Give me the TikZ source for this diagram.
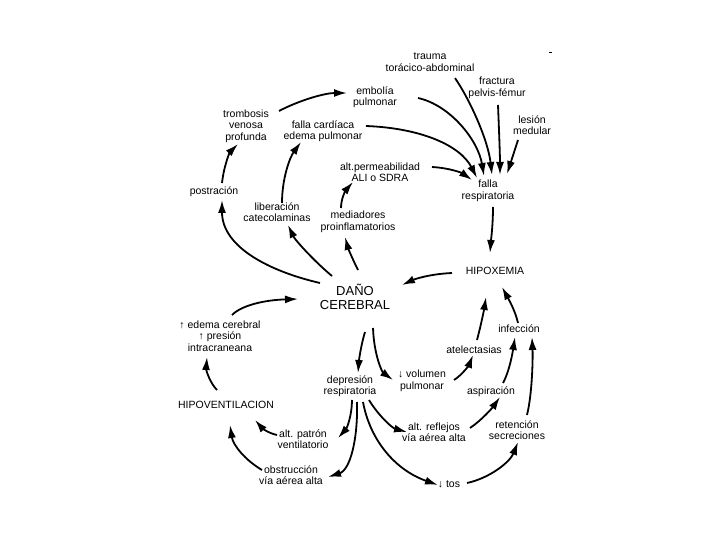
\documentclass[tikz,border=0pt]{standalone}
\usepackage{fontspec}
\setmainfont{Liberation Sans}
\usetikzlibrary{arrows.meta}
\begin{document}
\begin{tikzpicture}[x=1pt,y=-1pt,
  txt/.style={align=center,inner sep=0pt,font=\fontsize{10.5}{11.5}\selectfont},
  big/.style={align=center,inner sep=0pt,font=\fontsize{13}{14}\selectfont},
  arr/.style={line width=1.8pt,-{Latex[length=13pt,width=8pt]}}]
\fill[white] (0,0) rectangle (720,540);
\useasboundingbox (0,0) rectangle (720,540);
% nodes
\node[txt] (nTr) at (430,62) {trauma\\torácico-abdominal};
\node[txt] (nFp) at (497,88) {fractura\\pelvis-fémur};
\node[txt] (nLm) at (532,125) {lesión\\medular};
\node[txt] (nEm) at (375,97) {embolía\\pulmonar};
\node[txt] (nTv) at (246,126) {trombosis\\venosa\\profunda};
\node[txt] (nFc) at (323,131) {falla cardíaca\\edema pulmonar};
\node[txt] (nAp) at (380,172) {alt.permeabilidad\\ALI o SDRA};
\node[txt] (nFr) at (488,191) {falla\\respiratoria};
\node[txt] (nPo) at (214,192) {postración};
\node[txt] (nLc) at (277,212) {liberación\\catecolaminas};
\node[txt] (nMd) at (358,222) {mediadores\\proinflamatorios};
\node[txt] (nHx) at (495,271) {HIPOXEMIA};
\node[big] (nDc) at (355,297) {DAÑO\\CEREBRAL};
\node[txt] (nEc) at (220,336) {↑ edema cerebral\\↑ presión\\intracraneana};
\node[txt] (nAt) at (474,350) {atelectasias};
\node[txt] (nIn) at (519,329) {infección};
\node[txt] (nDr) at (350,386) {depresión\\respiratoria};
\node[txt] (nVp) at (422,381) {↓ volumen\\pulmonar};
\node[txt] (nAs) at (491,392) {aspiración};
\node[txt] (nHv) at (226,405) {HIPOVENTILACION};
\node[txt] (nPv) at (303,439) {alt. patrón\\ventilatorio};
\node[txt] (nRv) at (434,432) {alt. reflejos\\vía aérea alta};
\node[txt] (nRs) at (517,430) {retención\\secreciones};
\node[txt] (nOb) at (291,475) {obstrucción\\vía aérea alta};
\node[txt] (nTs) at (449,484) {↓ tos};
\coordinate (mA) at (549,52);
\coordinate (mB) at (552,52);
\draw[line width=0.8pt] (mA) -- (mB);
% connectors
\draw[arr] ([shift={(33,-15)}]nTv.center) .. controls (300,100) and (325,93) .. ([shift={(-28,-4)}]nEm.center);
\draw[arr] ([shift={(8,-9)}]nPo.center) .. controls (224,165) and (230,152) .. ([shift={(-8,18)}]nTv.center);
\draw[arr] ([shift={(-35,-14)}]nDc.center) .. controls (272,272) and (222,248) .. ([shift={(8,8)}]nPo.center);
\draw[arr] ([shift={(-23,-21)}]nDc.center) .. controls (315,262) and (295,240) .. ([shift={(11,13)}]nLc.center);
\draw[arr] ([shift={(3,-27)}]nDc.center) .. controls (352,258) and (348,248) .. ([shift={(-13,15)}]nMd.center);
\draw[arr] ([shift={(5,-9)}]nLc.center) .. controls (282,178) and (290,157) .. ([shift={(-22,11)}]nFc.center);
\draw[arr] ([shift={(-17,-14)}]nMd.center) .. controls (341,198) and (346,190) .. ([shift={(-27,10)}]nAp.center);
\draw[arr] ([shift={(43,1)}]nEm.center) .. controls (450,105) and (478,140) .. ([shift={(-4,-15)}]nFr.center);
\draw[arr] ([shift={(43,-5)}]nFc.center) .. controls (420,128) and (460,145) .. ([shift={(-11,-13)}]nFr.center);
\draw[arr] ([shift={(25,16)}]nTr.center) .. controls (470,100) and (488,140) .. ([shift={(4,-16)}]nFr.center);
\draw[arr] ([shift={(1,17)}]nFp.center) .. controls (499,130) and (500,155) .. ([shift={(12,-16)}]nFr.center);
\draw[arr] ([shift={(-14,15)}]nLm.center) -- ([shift={(19,-17)}]nFr.center);
\draw[arr] ([shift={(52,-5)}]nAp.center) .. controls (450,168) and (462,173) .. ([shift={(-16,-11)}]nFr.center);
\draw[arr] ([shift={(5,16)}]nFr.center) .. controls (493,225) and (491,240) .. ([shift={(-5,-18)}]nHx.center);
\draw[arr] ([shift={(-43,2)}]nHx.center) .. controls (430,274) and (415,279) .. ([shift={(47,-12)}]nDc.center);
\draw[arr] ([shift={(12,-21)}]nEc.center) .. controls (242,305) and (265,300) .. ([shift={(-57,2)}]nDc.center);
\draw[arr] ([shift={(-9,-15)}]nHv.center) .. controls (210,383) and (206,370) .. ([shift={(-13,21)}]nEc.center);
\draw[arr] ([shift={(10,35)}]nDc.center) .. controls (361,345) and (359,360) .. ([shift={(8,-13)}]nDr.center);
\draw[arr] ([shift={(18,31)}]nDc.center) .. controls (374,355) and (382,372) .. ([shift={(-29,-1)}]nVp.center);
\draw[arr] ([shift={(32,-1)}]nVp.center) .. controls (462,375) and (469,365) .. ([shift={(-1,5)}]nAt.center);
\draw[arr] ([shift={(3,-10)}]nAt.center) .. controls (481,325) and (484,310) .. ([shift={(-9,26)}]nHx.center);
\draw[arr] ([shift={(-1,-6)}]nIn.center) .. controls (515,310) and (508,298) .. ([shift={(7,16)}]nHx.center);
\draw[arr] ([shift={(12,-9)}]nAs.center) .. controls (510,370) and (513,350) .. ([shift={(-4,8)}]nIn.center);
\draw[arr] ([shift={(10,-15)}]nRs.center) .. controls (532,395) and (533,360) .. ([shift={(13,8)}]nIn.center);
\draw[arr] ([shift={(36,-4)}]nRv.center) .. controls (482,420) and (493,407) .. ([shift={(9,5)}]nAs.center);
\draw[arr] ([shift={(18,-1)}]nTs.center) .. controls (490,478) and (510,462) .. ([shift={(1,12)}]nRs.center);
\draw[arr] ([shift={(19,14)}]nDr.center) .. controls (378,415) and (392,428) .. ([shift={(-27,0)}]nRv.center);
\draw[arr] ([shift={(13,16)}]nDr.center) .. controls (370,440) and (395,470) .. ([shift={(-11,1)}]nTs.center);
\draw[arr] ([shift={(2,14)}]nDr.center) .. controls (352,415) and (347,428) .. ([shift={(35,-1)}]nPv.center);
\draw[arr] ([shift={(7,16)}]nDr.center) .. controls (358,440) and (350,470) .. ([shift={(37,2)}]nOb.center);
\draw[arr] ([shift={(-26,-4)}]nPv.center) .. controls (268,433) and (262,428) .. ([shift={(29,15)}]nHv.center);
\draw[arr] ([shift={(-29,-5)}]nOb.center) .. controls (245,460) and (233,445) .. ([shift={(4,20)}]nHv.center);
\end{tikzpicture}
\end{document}
